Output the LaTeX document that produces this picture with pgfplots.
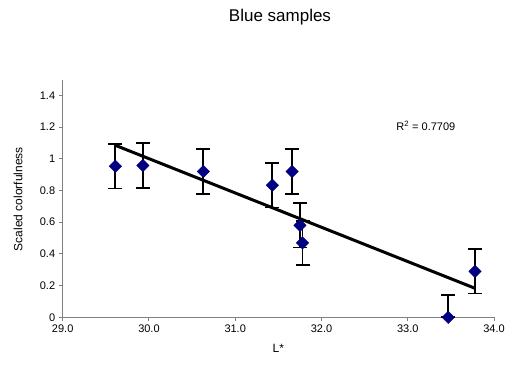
\documentclass[border=0pt]{standalone}
\usepackage{pgfplots}
\pgfplotsset{compat=1.18}
\usepackage{fontspec}
\setmainfont{Liberation Sans}
\definecolor{navy}{HTML}{000080}
\definecolor{axgray}{HTML}{808080}
\begin{document}
\begin{tikzpicture}
\useasboundingbox (-62.7pt,-50.7pt) rectangle (447.3pt,317.3pt);
\begin{axis}[
  scale only axis,
  width=431.3pt, height=237.8pt,
  xmin=29, xmax=34, ymin=0, ymax=1.5,
  xtick={29,30,31,32,33,34},
  ytick={0,0.2,0.4,0.6,0.8,1,1.2,1.4},
  axis x line=bottom, axis y line=left,
  axis line style={axgray, line width=1pt, -},
  tick style={axgray, line width=1pt},
  tick align=outside,
  major tick length=4pt,
  xticklabel style={/pgf/number format/.cd, fixed, fixed zerofill, precision=1},
  /pgf/number format/assume math mode=true,
  ticklabel style={font=\fontsize{11}{13}\selectfont},
  clip=false,
]
\addplot[black, line width=3pt, no marks] coordinates {(29.61,1.085) (33.78,0.183)};
\addplot[black, line width=1.8pt, no marks, draw=none,
  error bars/.cd, y dir=both, y explicit,
  error bar style={black, line width=1.8pt},
  error mark options={rotate=90, mark size=7pt, line width=1.8pt, black}]
  table[x=x, y=y, y error plus=ep, y error minus=em] {
x y ep em
29.61 0.953 0.14 0.14
29.93 0.958 0.14 0.14
30.63 0.920 0.14 0.14
31.43 0.833 0.14 0.14
31.66 0.920 0.14 0.14
31.75 0.580 0.14 0.14
31.78 0.470 0.14 0.14
33.47 0.000 0.14 0.00
33.78 0.290 0.14 0.14
};
\addplot[only marks, mark=square*, mark size=4.4pt, mark options={rotate=45, fill=navy, draw=navy}]
  table[x=x, y=y] {
x y
29.61 0.953
29.93 0.958
30.63 0.920
31.43 0.833
31.66 0.920
31.75 0.580
31.78 0.470
33.47 0.000
33.78 0.290
};
\node[font=\fontsize{11}{13}\selectfont] at (axis cs:33.21,1.21) {R$^{\mathrm{2}}$ = 0.7709};
\end{axis}
\node[font=\fontsize{12}{14}\selectfont, rotate=90] at (-44.7pt,118pt) {Scaled colorfulness};
\node[font=\fontsize{12}{14}\selectfont] at (215.6pt,-30.7pt) {L*};
\node[font=\fontsize{17}{20}\selectfont] at (217.3pt,300.3pt) {Blue samples};
\end{tikzpicture}
\end{document}
